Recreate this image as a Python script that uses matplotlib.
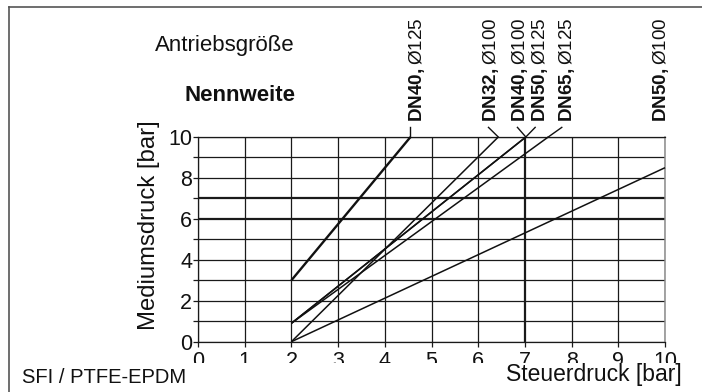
import matplotlib
matplotlib.use("Agg")
import matplotlib.pyplot as plt
from matplotlib.lines import Line2D
from matplotlib.patches import Rectangle
from matplotlib.ticker import FixedLocator, FixedFormatter

plt.rcParams['font.family'] = ['Liberation Sans', 'DejaVu Sans']
plt.rcParams['mathtext.fontset'] = 'custom'
plt.rcParams['mathtext.rm'] = 'Liberation Sans'
plt.rcParams['mathtext.bf'] = 'Liberation Sans:bold'

# ---- data ----
x_ticks = [0, 1, 2, 3, 4, 5, 6, 7, 8, 9, 10]
y_ticks = [0, 1, 2, 3, 4, 5, 6, 7, 8, 9, 10]
y_tick_labels = ["0", "", "2", "", "4", "", "6", "", "8", "", "10"]

label_bold = ["DN40,", "DN32,", "DN40,", "DN50,", "DN65,", "DN50,"]
label_rest = ["Ø125", "Ø100", "Ø100", "Ø125", "Ø125", "Ø100"]
curve_x = [[2, 4.55], [2, 6.43], [2, 7.02], [2, 7.02], [2, 7.5], [2, 10]]
curve_y = [[3, 10], [0, 10], [0.9, 10], [0.9, 10], [0.9, 10], [0, 8.5]]

# layout of leaders and labels (data coords)
leader_top_x = [4.55, 6.22, 6.84, 7.22, 7.79, None]
leader_top_y = 10.47
label_x = [4.79, 6.39, 7.00, 7.43, 8.00, 10.03]
label_y = 10.72
curve_lw = [1.7, 1.1, 1.1, 1.1, 1.1, 1.1]

W, H = 702, 392
fig = plt.figure(figsize=(W / 100, H / 100), dpi=100)
ax_l, ax_r, ax_t, ax_b = 198, 665, 137, 341.7
ax = fig.add_axes([ax_l / W, 1 - ax_b / H, (ax_r - ax_l) / W, (ax_b - ax_t) / H])
ax.set_xlim(0, 10)
ax.set_ylim(0, 10)

gcol = '#1a1a1a'
ax.xaxis.set_major_locator(FixedLocator(x_ticks))
ax.yaxis.set_major_locator(FixedLocator(y_ticks))
ax.xaxis.set_major_formatter(FixedFormatter([str(v) for v in x_ticks]))
ax.yaxis.set_major_formatter(FixedFormatter(y_tick_labels))
ax.grid(True, color=gcol, linewidth=0.9)
ax.tick_params(axis='both', length=3.6, width=0.9, color=gcol, labelsize=15.5,
               labelcolor='#111111')
ax.tick_params(axis='x', pad=3.4)
ax.tick_params(axis='y', pad=0.6)
for s in ['left', 'bottom', 'top']:
    ax.spines[s].set_color(gcol)
    ax.spines[s].set_linewidth(0.9)
ax.spines['right'].set_color('#8a8a8a')
ax.spines['right'].set_linewidth(1.1)

# bold grid lines
xg = ax.get_xgridlines()
yg = ax.get_ygridlines()
xg[7].set_linewidth(1.6)
yg[6].set_linewidth(1.6)
yg[7].set_linewidth(1.6)
xg[10].set_color('#8a8a8a')
ax.xaxis.get_major_ticks()[10].tick1line.set_color('#8a8a8a')

# curves
for cx, cy, lw in zip(curve_x, curve_y, curve_lw):
    ax.plot(cx, cy, color='#111111', linewidth=lw, solid_capstyle='butt', clip_on=False, zorder=3)

# leaders
for cx, cy, lx in zip(curve_x, curve_y, leader_top_x):
    if lx is None:
        continue
    ax.plot([cx[1], lx], [cy[1], leader_top_y], color='#111111', linewidth=1.0,
            clip_on=False, zorder=3)

# labels
for b, r, lx in zip(label_bold, label_rest, label_x):
    ax.text(lx, label_y, r"$\mathbf{" + b + "}$" + r, rotation=90,
            rotation_mode='anchor', ha='left', va='baseline', fontsize=13.6,
            color='#111111', clip_on=False)

# white band that cuts off the lower part of the x tick labels (as in the reference)
fig.add_artist(Rectangle((10 / W, 0), 1, 1 - 363 / H, transform=fig.transFigure,
                         facecolor='white', edgecolor='none', zorder=1))

# other text
fig.text(295 / W, 1 - 51 / H, "Antriebsgröße", ha='right', va='baseline', fontsize=16, color='#111111')
fig.text(295 / W, 1 - 101 / H, "Nennweite", ha='right', va='baseline', fontsize=16,
         fontweight='bold', color='#111111')
fig.text(155 / W, 1 - 225 / H, "Mediumsdruck [bar]", rotation=90, rotation_mode='anchor',
         ha='center', va='baseline', fontsize=17.2, color='#111111')
fig.text(682 / W, 1 - 381 / H, "Steuerdruck [bar]", ha='right', va='baseline', fontsize=16.5,
         color='#111111')
fig.text(22 / W, 1 - 383 / H, "SFI / PTFE-EPDM", ha='left', va='baseline', fontsize=14.5,
         color='#111111')

# figure frame (top and left)
fig.add_artist(Line2D([9 / W, 1], [1 - 7 / H, 1 - 7 / H], transform=fig.transFigure,
                      color='#555555', linewidth=1.2))
fig.add_artist(Line2D([9 / W, 9 / W], [0, 1 - 7 / H], transform=fig.transFigure,
                      color='#555555', linewidth=1.2))

fig.savefig("out.png", dpi=100)
